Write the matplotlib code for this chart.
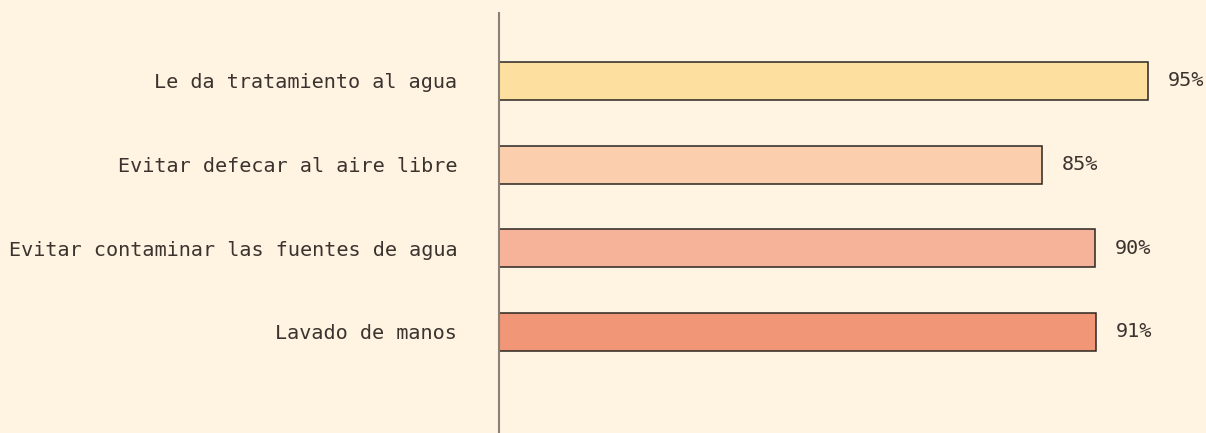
import matplotlib
matplotlib.use("Agg")
import matplotlib.pyplot as plt

# data
categories = [
    "Le da tratamiento al agua",
    "Evitar defecar al aire libre",
    "Evitar contaminar las fuentes de agua",
    "Lavado de manos",
]
# bar lengths as drawn (the last two bars are the same length in the source)
values = [95, 85, 90, 90.1]
pct_labels = ["95%", "85%", "90%", "91%"]
bar_colors = ["#fddf9f", "#fbcfad", "#f7b39a", "#f19676"]

BG = "#fff3e2"
TEXT = "#3b332e"

plt.rcParams["font.family"] = ["DejaVu Sans Mono"]

fig = plt.figure(figsize=(12.06, 4.33), dpi=100, facecolor=BG)
# axes: left edge at the vertical rule, top where the rule starts
ax = fig.add_axes([499 / 1206, 0.0, 707 / 1206, 420 / 433])
ax.set_facecolor(BG)

ypos = list(range(len(categories)))
ax.barh(ypos, values, height=0.454, color=bar_colors,
        edgecolor="#2a2622", linewidth=1.1, zorder=2)

for y, v, lab in zip(ypos, values, pct_labels):
    ax.annotate(lab, xy=(v, y), xytext=(14.5, 0),
                textcoords="offset points", va="center", ha="left",
                fontsize=14.5, color=TEXT)

ax.set_xlim(33.77, 33.77 + 707 / 10.6)
ax.set_ylim(4.207, -0.812)

ax.set_yticks(ypos)
ax.set_yticklabels(categories, fontsize=14.5, color=TEXT)
ax.tick_params(axis="y", length=0, pad=30)
ax.set_xticks([])

for side in ["top", "right", "bottom"]:
    ax.spines[side].set_visible(False)
ax.spines["left"].set_color("#8b7f78")
ax.spines["left"].set_linewidth(1.5)

fig.savefig("out.png", dpi=100, facecolor=BG)
